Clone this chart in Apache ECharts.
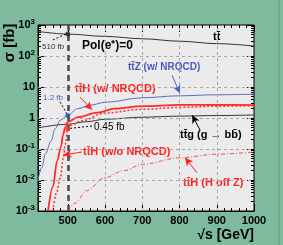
<!DOCTYPE html>
<html><head><meta charset="utf-8">
<script src="https://cdn.jsdelivr.net/npm/echarts@6/dist/echarts.min.js"></script>
<style>html,body{margin:0;padding:0;background:#7dba9e}#c{width:283px;height:245px}</style>
</head><body><div id="c"></div>
<script>
// ---- data ----
const energyTT = [420, 500, 600, 700, 800, 900, 1000];
const sigmaTT = [620, 510, 430, 360, 300, 250, 210];

const energyTTZ = [420, 430, 440, 455, 466, 480, 500, 527, 560, 600, 700, 800, 900, 1000];
const sigmaTTZ = [0.01, 0.025, 0.07, 0.18, 0.45, 0.85, 1.25, 2.0, 2.6, 3.2, 4.5, 5.2, 5.6, 5.9];

const energyTTH = [447, 460, 471, 482, 487, 493, 500, 527, 580, 626, 700, 800, 900, 1000];
const sigmaTTH = [0.001, 0.006, 0.04, 0.12, 0.28, 0.5, 0.75, 1.07, 1.5, 2.0, 2.4, 2.65, 2.65, 2.6];

const energyTTHnoNRQCD = [460, 470, 480, 488, 493, 500, 510, 535, 600, 700, 800, 900, 1000];
const sigmaTTHnoNRQCD = [0.001, 0.004, 0.012, 0.05, 0.14, 0.45, 0.6, 0.8, 1.45, 1.9, 2.2, 2.4, 2.5];

const energyTTG = [420, 500, 550, 600, 700, 800, 900, 1000];
const sigmaTTG = [0.48, 0.63, 0.76, 0.91, 1.06, 1.15, 1.2, 1.25];

const energyHoffZ = [500, 520, 550, 600, 650, 700, 800, 900, 1000];
const sigmaHoffZ = [0.001, 0.0018, 0.0045, 0.012, 0.02, 0.032, 0.052, 0.068, 0.08];

const refEnergy = 500;
const refValues = [510, 1.2, 0.45];          // tt, ttZ, ttH(w/o) at 500 GeV
const refLabels = ['510 fb', '1.2 fb', '0.45 fb'];

const xTicks = [500, 600, 700, 800, 900, 1000];
const xMinorTicks = [440, 460, 480, 520, 540, 560, 580, 620, 640, 660, 680, 720, 740, 760, 780, 820, 840, 860, 880, 920, 940, 960, 980];
const yTicks = [0.001, 0.01, 0.1, 1, 10, 100, 1000];
const yMinorTicks = [];
for (let e = -3; e < 3; e++) for (let m = 2; m <= 9; m++) yMinorTicks.push(+(m * Math.pow(10, e)).toPrecision(3));

const tbar = 't\u0304';
const pairs = (xs, ys) => xs.map((x, i) => [x, ys[i]]);

const chart = echarts.init(document.getElementById('c'), null, {renderer: 'canvas'});
const F = 'Liberation Sans, Arial, sans-serif';

function yFmt(v) {
  const e = Math.round(Math.log10(v));
  if (e === 0) return '{b|1}';
  if (e === 1) return '{b|10}';
  return '{b|10}{s|' + e + '}';
}
const yRich = {b: {fontSize: 11, fontWeight: 'bold', fontFamily: F, color: '#000'},
               s: {fontSize: 8, fontWeight: 'bold', fontFamily: F, color: '#000', verticalAlign: 'top', padding: [0, 0, 6, 0]}};

const gridX = [600, 700, 800, 900];
const gridY = [0.01, 0.1, 1, 10, 100];
const gl = {type: [3, 3], color: '#a8a8a8', width: 1};

const mkAxisX = (pos, custom, len, labels) => ({
  type: 'value', min: 420, max: 1000, position: pos, gridIndex: 0,
  axisLine: {show: !!labels, onZero: false, lineStyle: {color: '#000'}},
  axisTick: {show: true, inside: true, length: len, customValues: custom, lineStyle: {color: '#000'}},
  axisLabel: labels ? {show: true, customValues: xTicks, formatter: v => String(v), fontSize: 11, fontWeight: 'bold', fontFamily: F, color: '#000', margin: 4} : {show: false},
  splitLine: {show: false}
});
const mkAxisY = (pos, custom, len, labels) => ({
  type: 'log', logBase: 10, min: 0.001, max: 1000, position: pos, gridIndex: 0,
  axisLine: {show: !!labels, onZero: false, lineStyle: {color: '#000'}},
  axisTick: {show: true, inside: true, length: len, customValues: custom, lineStyle: {color: '#000'}},
  axisLabel: labels ? {show: true, customValues: yTicks, formatter: yFmt, rich: yRich, margin: 3} : {show: false},
  splitLine: {show: false}
});

const arrow = (x1, y1, x2, y2, color) => [
  {coord: [x1, y1], symbol: 'none', lineStyle: {color: color, width: 1, type: 'solid'}},
  {coord: [x2, y2], symbol: 'arrow', symbolSize: [6, 8]}
];
const leader = (x1, y1, x2, y2, color) => [
  {coord: [x1, y1], symbol: 'none', lineStyle: {color: color, width: 1, type: [2, 2]}},
  {coord: [x2, y2], symbol: 'none'}
];

const lineSeries = (name, data, color, width, type, extra) => Object.assign({
  name: name, type: 'line', data: data, xAxisIndex: 0, yAxisIndex: 0,
  showSymbol: false, smooth: 0.35, smoothMonotone: 'x', z: 3,
  lineStyle: {color: color, width: width, type: type}
}, extra || {});

chart.setOption({
  backgroundColor: '#7dba9e',
  animation: false,
  grid: {left: 38, right: 29, top: 25, bottom: 34, show: true, backgroundColor: '#ebebeb', borderColor: '#000', borderWidth: 1},
  xAxis: [mkAxisX('bottom', xTicks, 7, true), mkAxisX('bottom', xMinorTicks, 3, false),
          mkAxisX('top', xTicks, 7, false), mkAxisX('top', xMinorTicks, 3, false)],
  yAxis: [mkAxisY('left', yTicks, 7, true), mkAxisY('left', yMinorTicks, 3, false),
          mkAxisY('right', yTicks, 7, false), mkAxisY('right', yMinorTicks, 3, false)],
  series: [
    lineSeries('grid', [], '#000', 0, 'solid', {
      z: 1,
      markLine: {silent: true, symbol: 'none', animation: false, label: {show: false},
        data: gridX.map(v => ({xAxis: v, lineStyle: gl}))
          .concat(gridY.map(v => ({yAxis: v, lineStyle: gl})))
          .concat([{xAxis: refEnergy, lineStyle: {type: [6, 4], color: '#4a4a4a', width: 2.5}}])}
    }),
    lineSeries('tt', pairs(energyTT, sigmaTT), '#333', 1, 'solid'),
    lineSeries('ttg', pairs(energyTTG, sigmaTTG), '#333', 1, 'solid', {
      markLine: {silent: true, animation: false, label: {show: false}, data: [
        arrow(855, 0.41, 834, 1.22, '#000'),
        arrow(780, 24, 801, 6.3, '#5060c0'),
        arrow(533, 4.7, 565, 1.85, '#ff2020'),
        arrow(538, 0.08, 488, 0.064, '#ff2020'),
        arrow(847, 0.017, 815, 0.052, '#ff2020'),
        leader(460, 330, 498, 530, '#000'),
        leader(479, 3.3, 498, 1.35, '#000'),
        leader(565, 0.55, 503, 0.46, '#000')
      ]}
    }),
    lineSeries('ttZ', pairs(energyTTZ, sigmaTTZ), '#5b6cc4', 1, 'solid'),
    lineSeries('ttH', pairs(energyTTH, sigmaTTH), '#ff2a2a', 1.8, 'solid'),
    lineSeries('ttHnoNRQCD', pairs(energyTTHnoNRQCD, sigmaTTHnoNRQCD), '#ff2a2a', 1.5, [2, 2]),
    lineSeries('ttHoffZ', pairs(energyHoffZ, sigmaHoffZ), '#ff4a4a', 1, [4, 2, 1, 2]),
    {type: 'scatter', xAxisIndex: 0, yAxisIndex: 0, z: 5, symbolSize: 5, silent: true,
     data: refValues.map((v, i) => ({value: [refEnergy, v], itemStyle: {color: ['#222', '#3050c0', '#ff3030'][i]}}))}
  ],
  graphic: [
    {type: 'line', shape: {x1: 279, y1: 0, x2: 279, y2: 245}, style: {stroke: '#5f9a80', lineWidth: 1}},
    {type: 'text', x: 10, y: 43, rotation: Math.PI / 2, style: {text: 'σ [fb]', font: 'bold 15px ' + F, fill: '#000', textAlign: 'center', textVerticalAlign: 'middle'}},
    {type: 'text', x: 254, y: 235, style: {text: '√s [GeV]', font: 'bold 14px ' + F, fill: '#000', textAlign: 'right', textVerticalAlign: 'middle'}},
    {type: 'text', x: 82, y: 46, style: {text: 'Pol(e\u207A)=0', font: 'bold 12px ' + F, fill: '#000', textVerticalAlign: 'middle'}},
    {type: 'text', x: 213, y: 37, style: {text: 't' + tbar, font: 'bold 11px ' + F, fill: '#000', textVerticalAlign: 'middle'}},
    {type: 'text', x: 128, y: 67, style: {text: 't' + tbar + 'Z (w/ NRQCD)', font: 'bold 10px ' + F, fill: '#4a5cc0', textVerticalAlign: 'middle'}},
    {type: 'text', x: 75, y: 89, style: {text: 't' + tbar + 'H (w/ NRQCD)', font: 'bold 11px ' + F, fill: '#ff2020', textVerticalAlign: 'middle'}},
    {type: 'text', x: 83, y: 152, style: {text: 't' + tbar + 'H (w/o NRQCD)', font: 'bold 11px ' + F, fill: '#ff2020', textVerticalAlign: 'middle'}},
    {type: 'text', x: 180, y: 135, style: {text: 't' + tbar + 'g (g \u2192 bb\u0304)', font: 'bold 11px ' + F, fill: '#000', textVerticalAlign: 'middle'}},
    {type: 'text', x: 183, y: 183, style: {text: 't' + tbar + 'H (H off Z)', font: 'bold 11px ' + F, fill: '#ff2020', textVerticalAlign: 'middle'}},
    {type: 'text', x: 42, y: 47, style: {text: refLabels[0], font: '8px ' + F, fill: '#333', textVerticalAlign: 'middle'}},
    {type: 'text', x: 43, y: 98, style: {text: refLabels[1], font: '8px ' + F, fill: '#4a5cc0', textVerticalAlign: 'middle'}},
    {type: 'text', x: 94, y: 127, style: {text: refLabels[2], font: '10px ' + F, fill: '#000', textVerticalAlign: 'middle'}}
  ]
});
</script></body></html>
